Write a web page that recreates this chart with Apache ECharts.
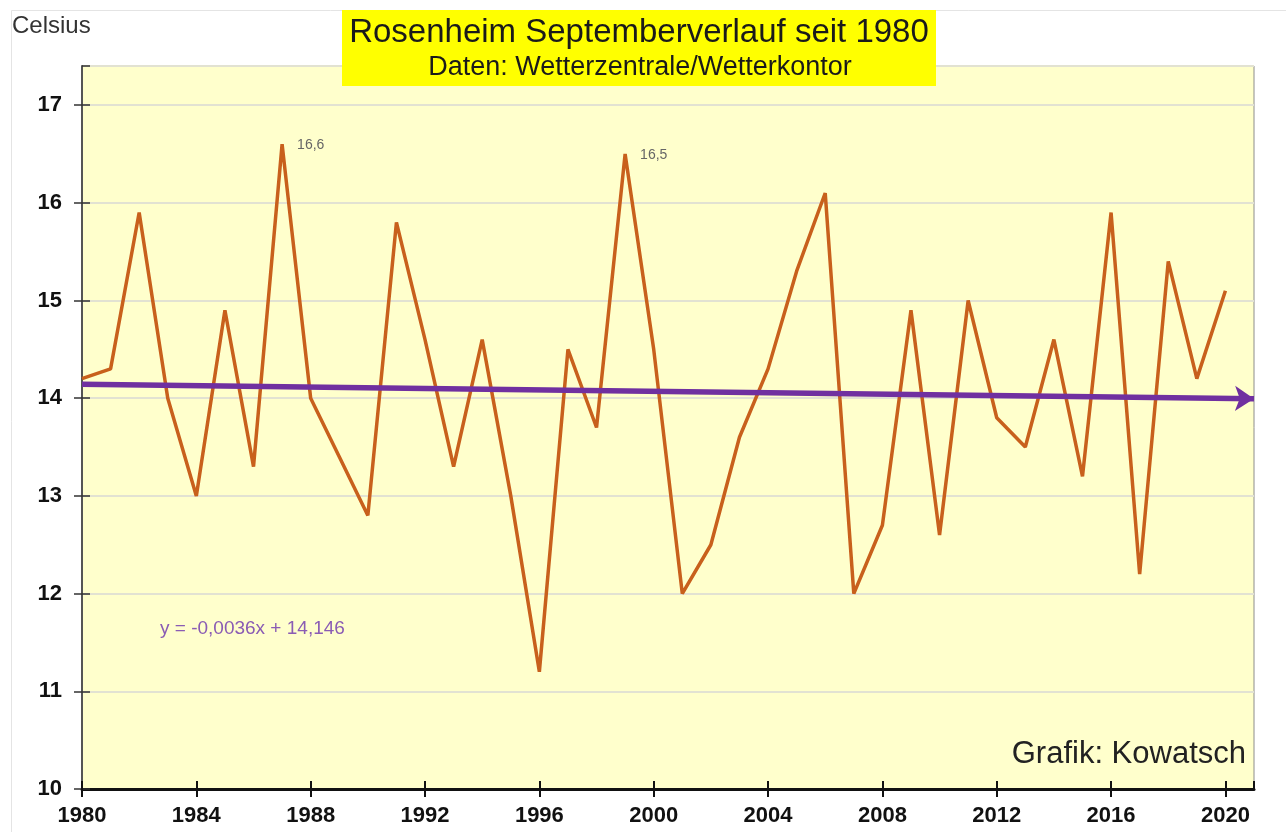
<!DOCTYPE html>
<html>
<head>
<meta charset="utf-8">
<script src="https://cdn.jsdelivr.net/npm/echarts@6/dist/echarts.min.js"></script>
<style>
  html, body { margin: 0; padding: 0; background: #fff; }
  #main { width: 1286px; height: 832px; }
</style>
</head>
<body>
<div id="main"></div>
<script>
// September mean temperature Rosenheim
var years = [1980, 1981, 1982, 1983, 1984, 1985, 1986, 1987, 1988, 1989,
             1990, 1991, 1992, 1993, 1994, 1995, 1996, 1997, 1998, 1999,
             2000, 2001, 2002, 2003, 2004, 2005, 2006, 2007, 2008, 2009,
             2010, 2011, 2012, 2013, 2014, 2015, 2016, 2017, 2018, 2019, 2020];
var temps = [14.2, 14.3, 15.9, 14.0, 13.0, 14.9, 13.3, 16.6, 14.0, 13.4,
             12.8, 15.8, 14.6, 13.3, 14.6, 13.0, 11.2, 14.5, 13.7, 16.5,
             14.5, 12.0, 12.5, 13.6, 14.3, 15.3, 16.1, 12.0, 12.7, 14.9,
             12.6, 15.0, 13.8, 13.5, 14.6, 13.2, 15.9, 12.2, 15.4, 14.2, 15.1];
// years whose value is written next to the peak
var labelled = [1987, 1999];
// trend line ends (year, value)
var trend = [[1980, 14.142], [2021, 13.995]];

var fmt = function (v) { return v.toFixed(1).replace('.', ','); };

var lineData = years.map(function (y, i) {
    var item = { value: [y, temps[i]] };
    if (labelled.indexOf(y) >= 0) {
        item.label = {
            show: true, position: 'right', distance: 15, offset: [0, 1],
            formatter: fmt(temps[i]), color: '#666', fontSize: 14,
            fontFamily: 'Liberation Sans'
        };
    }
    return item;
});

var chart = echarts.init(document.getElementById('main'));
var baseX = {type: 'value', min: 1980, max: 2021, interval: 4, gridIndex: 0};
var baseY = {type: 'value', min: 10, max: 17.4, interval: 1, gridIndex: 0};

chart.setOption({
    animation: false,
    backgroundColor: '#fff',
    grid: {
        left: 82, right: 32, top: 66, bottom: 43,
        show: true, backgroundColor: '#ffffcc',
        borderColor: '#8c8c8c', borderWidth: 1
    },
    xAxis: [
        Object.assign({}, baseX, {
            position: 'bottom',
            axisLine: {show: true, lineStyle: {color: '#111', width: 3}},
            axisTick: {show: true, length: 8, lineStyle: {color: '#111', width: 2}},
            axisLabel: {
                showMaxLabel: false, margin: 16, color: '#111',
                formatter: function (v) { return String(v); },
                fontSize: 22, fontWeight: 'bold', fontFamily: 'Liberation Sans'
            },
            splitLine: {show: false}
        }),
        // inner half of the crossing ticks
        Object.assign({}, baseX, {
            position: 'bottom', offset: 0,
            axisLine: {show: false},
            axisTick: {show: true, inside: true, length: 8, lineStyle: {color: '#111', width: 2}},
            axisLabel: {show: false},
            splitLine: {show: false}
        })
    ],
    yAxis: [
        Object.assign({}, baseY, {
            position: 'left',
            axisLine: {show: true, lineStyle: {color: '#555', width: 2}},
            axisTick: {show: true, length: 8, lineStyle: {color: '#333', width: 1.5}},
            axisLabel: {
                showMaxLabel: false, margin: 20, color: '#111',
                fontSize: 22, fontWeight: 'bold', fontFamily: 'Liberation Sans'
            },
            splitLine: {show: true, lineStyle: {color: '#e2e2d2', width: 2}}
        }),
        Object.assign({}, baseY, {
            position: 'left', offset: 0,
            axisLine: {show: false},
            axisTick: {show: true, inside: true, length: 8, lineStyle: {color: '#333', width: 1.5}},
            axisLabel: {show: false},
            splitLine: {show: false}
        })
    ],
    series: [
        {
            type: 'line',
            data: lineData,
            symbol: 'circle',
            symbolSize: 0,
            showSymbol: true,
            lineStyle: {color: '#c8601c', width: 3.5},
            itemStyle: {color: '#c8601c'},
            z: 3
        },
        {
            type: 'lines',
            coordinateSystem: 'cartesian2d',
            xAxisIndex: 0, yAxisIndex: 0,
            symbol: ['none', 'arrow'],
            symbolSize: 19,
            lineStyle: {color: '#7030a0', width: 5.5, opacity: 1, curveness: 0},
            data: [{coords: trend}],
            z: 4
        }
    ],
    graphic: [
        {
            type: 'rect', silent: true, z: -1,
            shape: {x: 11.5, y: 10.5, width: 1300, height: 840},
            style: {fill: null, stroke: '#e4e4e4', lineWidth: 1}
        },
        {
            type: 'text', left: 12, top: 14,
            style: {text: 'Celsius', fill: '#333', font: '24px "Liberation Sans"'}
        },
        {
            type: 'rect', silent: true, z: 10,
            shape: {x: 342, y: 10, width: 594, height: 76},
            style: {fill: '#ffff00'}
        },
        {
            type: 'text', z: 11, x: 639, y: 33,
            style: {
                text: 'Rosenheim Septemberverlauf seit 1980', fill: '#1a1a1a',
                font: '33px "Liberation Sans"', align: 'center', verticalAlign: 'middle'
            }
        },
        {
            type: 'text', z: 11, x: 640, y: 68,
            style: {
                text: 'Daten: Wetterzentrale/Wetterkontor', fill: '#1a1a1a',
                font: '27px "Liberation Sans"', align: 'center', verticalAlign: 'middle'
            }
        },
        {
            type: 'text', z: 11, x: 160, y: 629,
            style: {
                text: 'y = -0,0036x + 14,146', fill: '#8a5cb4',
                font: '19px "Liberation Sans"', align: 'left', verticalAlign: 'middle'
            }
        },
        {
            type: 'text', z: 11, x: 1246, y: 754,
            style: {
                text: 'Grafik: Kowatsch', fill: '#222',
                font: '31px "Liberation Sans"', align: 'right', verticalAlign: 'middle'
            }
        }
    ]
});
</script>
</body>
</html>
